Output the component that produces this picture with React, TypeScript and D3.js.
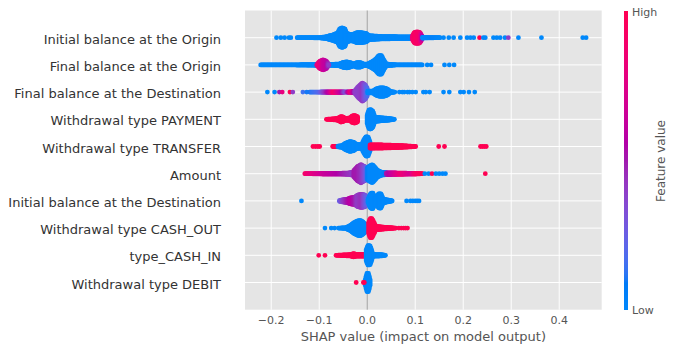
import React from "react";
import * as d3 from "d3";

// [shap value, half spread of the swarm (fraction of a row), feature value 0=low..1=high]
type Knot = [number, number, number];
// [shap value, feature value]
type Dot = [number, number];

const features = [
  "Initial balance at the Origin",
  "Final balance at the Origin",
  "Final balance at the Destination",
  "Withdrawal type PAYMENT",
  "Withdrawal type TRANSFER",
  "Amount",
  "Initial balance at the Destination",
  "Withdrawal type CASH_OUT",
  "type_CASH_IN",
  "Withdrawal type DEBIT",
];

const xTicks = [-0.2, -0.1, 0.0, 0.1, 0.2, 0.3, 0.4];

const bandsInitialOrigin: Knot[][] = [
  [
    [-0.146, 0.085, 0], [-0.1, 0.09, 0], [-0.085, 0.12, 0], [-0.07, 0.2, 0],
    [-0.062, 0.25, 0], [-0.058, 0.4, 0], [-0.052, 0.45, 0], [-0.046, 0.4, 0],
    [-0.043, 0.25, 0], [-0.035, 0.2, 0], [-0.028, 0.22, 0], [-0.022, 0.27, 0],
    [-0.012, 0.27, 0], [-0.002, 0.24, 0], [0.004, 0.16, 0], [0.03, 0.13, 0],
    [0.07, 0.12, 0], [0.094, 0.12, 0],
  ],
  [[0.094, 0.15, 0.8], [0.098, 0.28, 0.95], [0.104, 0.3, 0.9], [0.11, 0.28, 0.9], [0.115, 0.12, 0.5]],
  [[0.115, 0.1, 0], [0.135, 0.09, 0.05], [0.153, 0.085, 0]],
];
const dotsInitialOrigin: Dot[] = [
  [-0.189, 0], [-0.18, 0], [-0.172, 0], [-0.163, 0], [-0.159, 0],
  [0.159, 0], [0.17, 0], [0.18, 0], [0.194, 0], [0.208, 0], [0.215, 0], [0.222, 0],
  [0.234, 1], [0.242, 0], [0.246, 0], [0.263, 0], [0.27, 0], [0.277, 0], [0.287, 0],
  [0.294, 0.4], [0.315, 0], [0.363, 0], [0.449, 0], [0.456, 0],
];

const bandsFinalOrigin: Knot[][] = [
  [
    [-0.222, 0.08, 0], [-0.15, 0.09, 0], [-0.11, 0.1, 0], [-0.08, 0.1, 0],
    [-0.058, 0.12, 0], [-0.05, 0.18, 0], [-0.042, 0.2, 0], [-0.034, 0.16, 0],
    [-0.028, 0.12, 0], [-0.022, 0.17, 0], [-0.014, 0.17, 0], [-0.008, 0.12, 0],
    [0.0, 0.11, 0], [0.01, 0.2, 0], [0.018, 0.3, 0], [0.024, 0.43, 0],
    [0.03, 0.43, 0], [0.035, 0.25, 0], [0.04, 0.12, 0], [0.06, 0.09, 0], [0.115, 0.085, 0],
  ],
  [[-0.105, 0.1, 0.75], [-0.099, 0.22, 0.85], [-0.092, 0.27, 0.65], [-0.085, 0.22, 0.6], [-0.08, 0.1, 0.4]],
];
const dotsFinalOrigin: Dot[] = [
  [0.125, 0], [0.133, 0], [0.161, 0], [0.171, 0], [0.181, 0],
];

const bandsFinalDest: Knot[][] = [
  [
    [-0.12, 0.085, 0.1], [-0.1, 0.09, 0.2], [-0.08, 0.1, 0.6], [-0.07, 0.1, 0.9],
    [-0.055, 0.1, 0.6], [-0.045, 0.09, 0.3], [-0.035, 0.1, 0.85], [-0.025, 0.12, 0.4],
  ],
  [[-0.025, 0.15, 0.4], [-0.018, 0.3, 0.38], [-0.01, 0.42, 0.42], [-0.004, 0.35, 0.3], [0.001, 0.2, 0.15]],
  [
    [0.001, 0.12, 0], [0.012, 0.12, 0], [0.018, 0.2, 0], [0.025, 0.24, 0],
    [0.035, 0.24, 0], [0.042, 0.2, 0], [0.048, 0.11, 0], [0.058, 0.085, 0],
  ],
];
const dotsFinalDest: Dot[] = [
  [-0.208, 0], [-0.193, 0], [-0.183, 0.5], [-0.177, 0.8], [-0.161, 1], [-0.155, 0.4],
  [-0.134, 0.15], [-0.126, 0.1],
  [0.067, 0], [0.073, 0], [0.077, 0], [0.084, 0], [0.088, 0], [0.094, 0], [0.101, 0],
  [0.117, 0], [0.122, 0], [0.13, 0], [0.159, 0], [0.171, 0], [0.194, 0], [0.201, 0],
  [0.212, 0], [0.224, 0],
];

const bandsPayment: Knot[][] = [
  [
    [-0.085, 0.085, 1], [-0.065, 0.11, 1], [-0.059, 0.14, 1], [-0.055, 0.19, 1],
    [-0.05, 0.17, 1], [-0.046, 0.12, 1], [-0.036, 0.13, 1], [-0.032, 0.2, 1],
    [-0.026, 0.23, 1], [-0.02, 0.18, 1],
  ],
  [
    [0.0, 0.25, 0], [0.003, 0.42, 0], [0.007, 0.45, 0], [0.012, 0.38, 0],
    [0.016, 0.17, 0], [0.03, 0.14, 0], [0.045, 0.12, 0], [0.057, 0.085, 0],
  ],
];
const dotsPayment: Dot[] = [];

const bandsTransfer: Knot[][] = [
  [[-0.072, 0.085, 1], [-0.061, 0.09, 1]],
  [
    [-0.061, 0.1, 0], [-0.052, 0.12, 0], [-0.046, 0.2, 0], [-0.036, 0.27, 0],
    [-0.028, 0.24, 0], [-0.022, 0.16, 0], [-0.012, 0.15, 0], [-0.008, 0.3, 0],
    [-0.003, 0.44, 0], [0.002, 0.44, 0], [0.006, 0.25, 0],
  ],
  [[0.006, 0.15, 1], [0.04, 0.14, 1], [0.07, 0.12, 1], [0.09, 0.1, 1], [0.101, 0.085, 1]],
];
const dotsTransfer: Dot[] = [
  [-0.113, 1], [-0.108, 1], [-0.103, 1], [-0.099, 1],
  [0.149, 1], [0.161, 1], [0.236, 1], [0.24, 1], [0.244, 1], [0.248, 1],
];

const bandsAmount: Knot[][] = [
  [
    [-0.13, 0.085, 0.9], [-0.11, 0.09, 0.75], [-0.09, 0.1, 0.65], [-0.06, 0.1, 0.55],
    [-0.04, 0.11, 0.45], [-0.028, 0.15, 0.4],
  ],
  [[-0.028, 0.2, 0.5], [-0.02, 0.35, 0.5], [-0.013, 0.42, 0.45], [-0.006, 0.35, 0.35], [0.0, 0.3, 0.2]],
  [
    [0.0, 0.3, 0.1], [0.006, 0.38, 0], [0.011, 0.42, 0], [0.017, 0.3, 0],
    [0.022, 0.2, 0], [0.03, 0.14, 0], [0.04, 0.12, 0.1],
  ],
  [[0.04, 0.12, 0.5], [0.07, 0.11, 0.85], [0.09, 0.1, 0.7], [0.1, 0.1, 0.9], [0.115, 0.085, 1]],
];
const dotsAmount: Dot[] = [
  [0.12, 0], [0.128, 0], [0.135, 1], [0.143, 0], [0.15, 0], [0.157, 0], [0.163, 0], [0.246, 1],
];

const bandsInitialDest: Knot[][] = [
  [
    [-0.058, 0.1, 0.25], [-0.05, 0.13, 0.4], [-0.042, 0.15, 0.5], [-0.034, 0.2, 0.6],
    [-0.026, 0.22, 0.5], [-0.02, 0.3, 0.4], [-0.012, 0.33, 0.45], [-0.004, 0.3, 0.3],
    [0.002, 0.15, 0.15],
  ],
  [
    [0.002, 0.15, 0], [0.005, 0.3, 0], [0.008, 0.37, 0], [0.012, 0.37, 0],
    [0.016, 0.2, 0], [0.02, 0.25, 0], [0.024, 0.35, 0], [0.029, 0.35, 0],
    [0.033, 0.17, 0], [0.04, 0.13, 0], [0.05, 0.1, 0], [0.053, 0.085, 0],
  ],
];
const dotsInitialDest: Dot[] = [
  [-0.137, 0], [0.082, 0], [0.09, 0], [0.095, 0], [0.1, 0], [0.104, 0], [0.108, 0],
];

const bandsCashOut: Knot[][] = [
  [
    [-0.06, 0.085, 0], [-0.045, 0.1, 0], [-0.036, 0.17, 0], [-0.028, 0.28, 0],
    [-0.02, 0.35, 0], [-0.014, 0.37, 0], [-0.008, 0.3, 0], [-0.003, 0.2, 0], [0.002, 0.12, 0],
  ],
  [
    [0.003, 0.3, 1], [0.006, 0.44, 1], [0.01, 0.44, 1], [0.014, 0.3, 1],
    [0.018, 0.15, 1], [0.035, 0.12, 1], [0.05, 0.1, 1], [0.06, 0.085, 1],
  ],
];
const dotsCashOut: Dot[] = [
  [-0.088, 0], [-0.075, 0], [-0.068, 0],
  [0.066, 1], [0.071, 1], [0.076, 1], [0.08, 1], [0.084, 1],
];

const bandsCashIn: Knot[][] = [
  [
    [-0.065, 0.085, 1], [-0.05, 0.1, 1], [-0.035, 0.11, 1], [-0.028, 0.15, 1],
    [-0.024, 0.12, 1], [-0.01, 0.12, 1], [-0.003, 0.12, 1],
  ],
  [
    [-0.002, 0.3, 0], [0.001, 0.44, 0], [0.006, 0.44, 0], [0.009, 0.3, 0],
    [0.012, 0.12, 0], [0.03, 0.11, 0], [0.039, 0.085, 0],
  ],
];
const dotsCashIn: Dot[] = [[-0.101, 1], [-0.088, 1]];

const bandsDebit: Knot[][] = [
  [[-0.004, 0.2, 0], [-0.001, 0.42, 0], [0.003, 0.42, 0], [0.006, 0.2, 0]],
];
const dotsDebit: Dot[] = [[-0.023, 1], [-0.008, 1], [-0.006, 1]];

const featureBands: Knot[][][] = [
  bandsInitialOrigin, bandsFinalOrigin, bandsFinalDest, bandsPayment, bandsTransfer,
  bandsAmount, bandsInitialDest, bandsCashOut, bandsCashIn, bandsDebit,
];
const featureDots: Dot[][] = [
  dotsInitialOrigin, dotsFinalOrigin, dotsFinalDest, dotsPayment, dotsTransfer,
  dotsAmount, dotsInitialDest, dotsCashOut, dotsCashIn, dotsDebit,
];

// SHAP red_blue colormap (LCH interpolation with darker middle)
function shapColor(t: number): string {
  const tt = Math.max(0, Math.min(1, t));
  const l = tt < 0.5 ? 54 + (40 - 54) * (tt / 0.5) : 40 + (54 - 40) * ((tt - 0.5) / 0.5);
  const c = 70 + 20 * tt;
  const hDeg = 266.93 + tt * (380.32 - 266.93);
  return d3.hcl(hDeg % 360, c, l).formatHex();
}

const W = 677;
const H = 351;
const plotLeft = 245;
const plotRight = 601.7;
const plotTop = 10.5;
const plotBottom = 309.7;
const dotR = 2.4;

export default function App() {
  const x = d3.scaleLinear().domain([-0.2546, 0.4885]).range([plotLeft, plotRight]);
  const n = features.length;
  const y = d3.scaleLinear().domain([-1, n]).range([plotBottom, plotTop]);
  const rowStep = Math.abs(y(1) - y(0));
  const rowY = (i: number) => y(n - 1 - i);

  const gradStops = d3.range(0, 101).map((k) => k / 100);

  const marks: React.ReactNode[] = [];
  featureBands.forEach((bands, i) => {
    const cy = rowY(i);
    bands.forEach((band, b) => {
      const vals = band.map((k) => k[0]);
      const hs = d3.scaleLinear().domain(vals).range(band.map((k) => k[1])).clamp(true);
      const cs = d3.scaleLinear().domain(vals).range(band.map((k) => k[2])).clamp(true);
      const x0 = x(vals[0]);
      const x1 = x(vals[vals.length - 1]);
      for (let px = x0; px <= x1 + 0.01; px += 0.8) {
        const v = x.invert(px);
        const spread = Math.max(0, hs(v) * rowStep - dotR);
        marks.push(
          <path
            key={`b${i}-${b}-${px.toFixed(1)}`}
            d={`M${px.toFixed(2)},${(cy - spread).toFixed(2)}V${(cy + spread + 0.01).toFixed(2)}`}
            stroke={shapColor(cs(v))}
            strokeWidth={dotR * 2}
            strokeLinecap="round"
            fill="none"
          />
        );
      }
    });
    featureDots[i].forEach((d, j) => {
      marks.push(
        <circle key={`d${i}-${j}`} cx={x(d[0])} cy={cy} r={dotR} fill={shapColor(d[1])} />
      );
    });
  });

  const fmt = (v: number) => (v < 0 ? "\u2212" : "") + Math.abs(v).toFixed(1);

  return (
    <svg
      width={W}
      height={H}
      style={{ position: "absolute", left: 0, top: 0, background: "#fff" }}
      fontFamily="DejaVu Sans"
    >
      <defs>
        <linearGradient id="cbar" x1="0" y1="1" x2="0" y2="0">
          {gradStops.map((t) => (
            <stop key={t} offset={`${t * 100}%`} stopColor={shapColor(t)} />
          ))}
        </linearGradient>
      </defs>
      <rect x={plotLeft} y={plotTop} width={plotRight - plotLeft} height={plotBottom - plotTop} fill="#e5e5e5" />
      {xTicks.map((t) => (
        <line key={`gx${t}`} x1={x(t)} x2={x(t)} y1={plotTop} y2={plotBottom} stroke="#fff" strokeWidth={1} />
      ))}
      {features.map((f, i) => (
        <line key={`gy${i}`} x1={plotLeft} x2={plotRight} y1={rowY(i)} y2={rowY(i)} stroke="#fff" strokeWidth={1} />
      ))}
      <line x1={x(0)} x2={x(0)} y1={plotTop} y2={plotBottom} stroke="#999" strokeWidth={1} />
      <g>{marks}</g>
      {features.map((f, i) => (
        <text key={`yl${i}`} x={221} y={rowY(i) + 6} textAnchor="end" fontSize={13} fill="#333">
          {f}
        </text>
      ))}
      {xTicks.map((t) => (
        <text key={`xt${t}`} x={x(t)} y={324} textAnchor="middle" fontSize={11} fill="#555">
          {fmt(t)}
        </text>
      ))}
      <text x={(plotLeft + plotRight) / 2} y={341} textAnchor="middle" fontSize={13} fill="#555">
        SHAP value (impact on model output)
      </text>
      <rect x={624} y={11} width={4} height={299} fill="url(#cbar)" />
      <text x={632} y={15.5} fontSize={11} fill="#555">High</text>
      <text x={632} y={314} fontSize={11} fill="#555">Low</text>
      <text
        transform={`translate(665,161) rotate(-90)`}
        textAnchor="middle"
        fontSize={12}
        fill="#555"
      >
        Feature value
      </text>
    </svg>
  );
}
